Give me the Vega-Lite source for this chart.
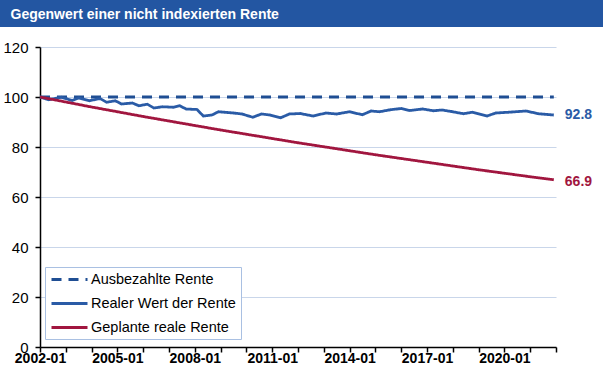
{
  "$schema": "https://vega.github.io/schema/vega-lite/v6.json",
  "padding": 0,
  "spacing": 13,
  "columns": 1,
  "align": "none",
  "bounds": "full",
  "background": "white",
  "config": {
    "font": "Liberation Sans",
    "view": {"stroke": null}
  },
  "datasets": {
    "lines": [
      {"date": "2002-01-01", "series": "Ausbezahlte Rente", "value": 100},
      {"date": "2021-12-01", "series": "Ausbezahlte Rente", "value": 100},
      {"date": "2002-01-01", "series": "Realer Wert der Rente", "value": 100},
      {"date": "2002-05-01", "series": "Realer Wert der Rente", "value": 98.9},
      {"date": "2002-11-01", "series": "Realer Wert der Rente", "value": 99.9},
      {"date": "2003-04-01", "series": "Realer Wert der Rente", "value": 98.6},
      {"date": "2003-07-01", "series": "Realer Wert der Rente", "value": 99.6},
      {"date": "2003-12-01", "series": "Realer Wert der Rente", "value": 98.5},
      {"date": "2004-05-01", "series": "Realer Wert der Rente", "value": 99.4},
      {"date": "2004-08-01", "series": "Realer Wert der Rente", "value": 97.9},
      {"date": "2004-12-01", "series": "Realer Wert der Rente", "value": 98.5},
      {"date": "2005-03-01", "series": "Realer Wert der Rente", "value": 97.2},
      {"date": "2005-08-01", "series": "Realer Wert der Rente", "value": 97.6},
      {"date": "2005-11-01", "series": "Realer Wert der Rente", "value": 96.5},
      {"date": "2006-03-01", "series": "Realer Wert der Rente", "value": 97.1},
      {"date": "2006-06-01", "series": "Realer Wert der Rente", "value": 95.6},
      {"date": "2006-10-01", "series": "Realer Wert der Rente", "value": 96.1},
      {"date": "2007-03-01", "series": "Realer Wert der Rente", "value": 95.9},
      {"date": "2007-06-01", "series": "Realer Wert der Rente", "value": 96.5},
      {"date": "2007-09-01", "series": "Realer Wert der Rente", "value": 95.2},
      {"date": "2008-02-01", "series": "Realer Wert der Rente", "value": 95.0},
      {"date": "2008-05-01", "series": "Realer Wert der Rente", "value": 92.4},
      {"date": "2008-09-01", "series": "Realer Wert der Rente", "value": 92.8},
      {"date": "2008-12-01", "series": "Realer Wert der Rente", "value": 94.1},
      {"date": "2009-07-01", "series": "Realer Wert der Rente", "value": 93.6},
      {"date": "2009-11-01", "series": "Realer Wert der Rente", "value": 93.2},
      {"date": "2010-04-01", "series": "Realer Wert der Rente", "value": 91.9},
      {"date": "2010-08-01", "series": "Realer Wert der Rente", "value": 93.2},
      {"date": "2010-12-01", "series": "Realer Wert der Rente", "value": 92.8},
      {"date": "2011-05-01", "series": "Realer Wert der Rente", "value": 91.7},
      {"date": "2011-09-01", "series": "Realer Wert der Rente", "value": 93.2},
      {"date": "2012-02-01", "series": "Realer Wert der Rente", "value": 93.4},
      {"date": "2012-08-01", "series": "Realer Wert der Rente", "value": 92.4},
      {"date": "2013-02-01", "series": "Realer Wert der Rente", "value": 93.6},
      {"date": "2013-07-01", "series": "Realer Wert der Rente", "value": 93.2},
      {"date": "2014-01-01", "series": "Realer Wert der Rente", "value": 94.1},
      {"date": "2014-07-01", "series": "Realer Wert der Rente", "value": 92.9},
      {"date": "2014-11-01", "series": "Realer Wert der Rente", "value": 94.4},
      {"date": "2015-03-01", "series": "Realer Wert der Rente", "value": 94.1},
      {"date": "2015-08-01", "series": "Realer Wert der Rente", "value": 94.9},
      {"date": "2016-01-01", "series": "Realer Wert der Rente", "value": 95.4},
      {"date": "2016-05-01", "series": "Realer Wert der Rente", "value": 94.6},
      {"date": "2016-11-01", "series": "Realer Wert der Rente", "value": 95.2},
      {"date": "2017-04-01", "series": "Realer Wert der Rente", "value": 94.5},
      {"date": "2017-08-01", "series": "Realer Wert der Rente", "value": 94.8},
      {"date": "2018-01-01", "series": "Realer Wert der Rente", "value": 94.1},
      {"date": "2018-06-01", "series": "Realer Wert der Rente", "value": 93.3},
      {"date": "2018-10-01", "series": "Realer Wert der Rente", "value": 93.9},
      {"date": "2019-05-01", "series": "Realer Wert der Rente", "value": 92.4},
      {"date": "2019-09-01", "series": "Realer Wert der Rente", "value": 93.6},
      {"date": "2020-03-01", "series": "Realer Wert der Rente", "value": 93.9},
      {"date": "2020-11-01", "series": "Realer Wert der Rente", "value": 94.4},
      {"date": "2021-05-01", "series": "Realer Wert der Rente", "value": 93.3},
      {"date": "2021-12-01", "series": "Realer Wert der Rente", "value": 92.8},
      {"date": "2002-01-01", "series": "Geplante reale Rente", "value": 100},
      {"date": "2003-01-01", "series": "Geplante reale Rente", "value": 98.0},
      {"date": "2004-01-01", "series": "Geplante reale Rente", "value": 96.0},
      {"date": "2005-01-01", "series": "Geplante reale Rente", "value": 94.1},
      {"date": "2006-01-01", "series": "Geplante reale Rente", "value": 92.2},
      {"date": "2007-01-01", "series": "Geplante reale Rente", "value": 90.4},
      {"date": "2008-01-01", "series": "Geplante reale Rente", "value": 88.6},
      {"date": "2009-01-01", "series": "Geplante reale Rente", "value": 86.8},
      {"date": "2010-01-01", "series": "Geplante reale Rente", "value": 85.1},
      {"date": "2011-01-01", "series": "Geplante reale Rente", "value": 83.4},
      {"date": "2012-01-01", "series": "Geplante reale Rente", "value": 81.7},
      {"date": "2013-01-01", "series": "Geplante reale Rente", "value": 80.1},
      {"date": "2014-01-01", "series": "Geplante reale Rente", "value": 78.5},
      {"date": "2015-01-01", "series": "Geplante reale Rente", "value": 76.9},
      {"date": "2016-01-01", "series": "Geplante reale Rente", "value": 75.4},
      {"date": "2017-01-01", "series": "Geplante reale Rente", "value": 73.9},
      {"date": "2018-01-01", "series": "Geplante reale Rente", "value": 72.4},
      {"date": "2019-01-01", "series": "Geplante reale Rente", "value": 70.9},
      {"date": "2020-01-01", "series": "Geplante reale Rente", "value": 69.5},
      {"date": "2021-01-01", "series": "Geplante reale Rente", "value": 68.1},
      {"date": "2021-12-01", "series": "Geplante reale Rente", "value": 66.9}
    ]
  },
  "concat": [
    {
      "width": 603,
      "height": 27,
      "view": {"fill": "#2356A2", "stroke": null},
      "data": {"values": [{}]},
      "mark": {"type": "text", "text": ""},
      "encoding": {
        "x": {
          "datum": 0,
          "type": "quantitative",
          "axis": {
            "orient": "bottom",
            "domain": false,
            "ticks": false,
            "labels": false,
            "grid": false,
            "title": "Gegenwert einer nicht indexierten Rente",
            "titleX": 10,
            "titleY": -8.5,
            "titleAlign": "left",
            "titleAnchor": "start",
            "titleBaseline": "alphabetic",
            "titleColor": "white",
            "titleFont": "Liberation Sans",
            "titleFontSize": 14,
            "titleFontWeight": "bold"
          }
        }
      }
    },
    {
      "width": 603,
      "height": 300,
      "data": {"name": "lines"},
      "encoding": {
        "x": {
          "field": "date",
          "type": "temporal",
          "scale": {"type": "utc", "domain": [{"year": 2002, "month": 1, "date": 1, "utc": true}, {"year": 2022, "month": 1, "date": 1, "utc": true}], "nice": false, "range": [40, 556]},
          "axis": {
            "title": null,
            "grid": false,
            "tickCount": {"interval": "year", "step": 1},
            "labelExpr": "(utcyear(datum.value) - 2002) % 3 == 0 ? utcFormat(datum.value, '%Y-%m') : ''",
            "labelOverlap": false,
            "labelFlush": false,
            "labelFont": "Liberation Sans",
            "labelFontSize": 14,
            "labelFontWeight": "bold",
            "labelColor": "black",
            "labelPadding": -1,
            "domainColor": "black",
            "domainWidth": 1.5,
            "tickColor": "black",
            "tickWidth": 1.5,
            "tickSize": 5
          }
        },
        "y": {
          "field": "value",
          "type": "quantitative",
          "scale": {"domain": [0, 120], "nice": false},
          "axis": {
            "title": null,
            "offset": -40,
            "values": [0, 20, 40, 60, 80, 100, 120],
            "grid": true,
            "gridColor": "#C9D6EA",
            "gridWidth": 1.2,
            "labelFont": "Liberation Sans",
            "labelFontSize": 15,
            "labelColor": "black",
            "labelPadding": 7,
            "domainColor": "black",
            "domainWidth": 1.5,
            "tickColor": "black",
            "tickWidth": 1.5,
            "tickSize": 5
          }
        }
      },
      "layer": [
        {
          "mark": {"type": "line", "strokeWidth": 2.8},
          "encoding": {
            "color": {
              "field": "series",
              "type": "nominal",
              "scale": {
                "domain": ["Ausbezahlte Rente", "Realer Wert der Rente", "Geplante reale Rente"],
                "range": ["#1F4E93", "#2A5BA6", "#A1163F"]
              },
              "legend": {
                "title": null,
                "orient": "none",
                "legendX": 45,
                "legendY": 267,
                "fillColor": "white",
                "strokeColor": "#A9C0E2",
                "padding": 5,
                "symbolType": "M-1,0H5",
                "symbolSize": 144,
                "symbolStrokeWidth": 3,
                "labelOffset": 26,
                "labelFont": "Liberation Sans",
                "labelFontSize": 14.5,
                "labelColor": "black",
                "rowPadding": 9
              }
            },
            "strokeDash": {
              "field": "series",
              "type": "nominal",
              "scale": {
                "domain": ["Ausbezahlte Rente", "Realer Wert der Rente", "Geplante reale Rente"],
                "range": [[10, 7], [1, 0], [1, 0]]
              },
              "legend": {
                "title": null,
                "orient": "none",
                "legendX": 45,
                "legendY": 267,
                "fillColor": "white",
                "strokeColor": "#A9C0E2",
                "padding": 5,
                "symbolType": "M-1,0H5",
                "symbolSize": 144,
                "symbolStrokeWidth": 3,
                "labelOffset": 26,
                "labelFont": "Liberation Sans",
                "labelFontSize": 14.5,
                "labelColor": "black",
                "rowPadding": 9
              }
            }
          }
        },
        {
          "transform": [{"filter": "datum.series == 'Realer Wert der Rente' && utcyear(datum.date) == 2021 && utcmonth(datum.date) == 11"}],
          "mark": {"type": "text", "align": "left", "baseline": "middle", "dx": 11, "font": "Liberation Sans", "fontSize": 14, "fontWeight": "bold", "color": "#2A5BA6"},
          "encoding": {"text": {"field": "value", "type": "quantitative", "format": ".1f"}}
        },
        {
          "transform": [{"filter": "datum.series == 'Geplante reale Rente' && utcyear(datum.date) == 2021 && utcmonth(datum.date) == 11"}],
          "mark": {"type": "text", "align": "left", "baseline": "middle", "dx": 11, "dy": 2, "font": "Liberation Sans", "fontSize": 14, "fontWeight": "bold", "color": "#A1163F"},
          "encoding": {"text": {"field": "value", "type": "quantitative", "format": ".1f"}}
        }
      ]
    }
  ]
}
